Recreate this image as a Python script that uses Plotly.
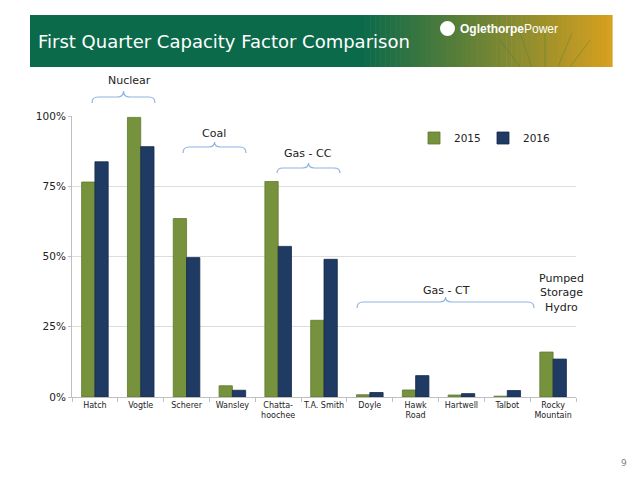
import plotly.graph_objects as go

categories = ["Hatch", "Vogtle", "Scherer", "Wansley", "Chatta-<br>hoochee", "T.A. Smith",
              "Doyle", "Hawk<br>Road", "Hartwell", "Talbot", "Rocky<br>Mountain"]
values_2015 = [0.765, 0.995, 0.635, 0.040, 0.767, 0.273, 0.008, 0.025, 0.007, 0.003, 0.160]
values_2016 = [0.837, 0.891, 0.496, 0.024, 0.536, 0.490, 0.016, 0.076, 0.012, 0.023, 0.135]
y_tickvals = [0, 0.25, 0.5, 0.75, 1.0]
y_ticktext = ["0%", "25%", "50%", "75%", "100%"]

OFF = 8  # page body margin
W, H = 637 - 2 * OFF, 478 - 2 * OFF
# plot area in page pixels
L, R, T, B = 72, 576, 116, 397
FONT = "DejaVu Sans"

def px(x):
    return (x - L) / (R - L)

def py(y):
    return (B - y) / (B - T)

fig = go.Figure()
fig.add_trace(go.Bar(x=categories, y=values_2015, name="2015",
                     marker=dict(color="#76923C", line=dict(color="#5E7A2C", width=0.8))))
fig.add_trace(go.Bar(x=categories, y=values_2016, name="2016",
                     marker=dict(color="#1F3A63", line=dict(color="#142A4A", width=0.8))))

shapes = []
# header banner
shapes.append(dict(type="rect", xref="paper", yref="paper",
                   x0=px(30), x1=px(362), y0=py(67), y1=py(15),
                   fillcolor="#0B6A4A", line=dict(width=0), layer="below"))
c0 = (11, 106, 74)
c1 = (214, 160, 32)
n = 50
gx0, gx1 = 360, 612
for i in range(n):
    t = i / (n - 1)
    col = tuple(int(c0[k] + (c1[k] - c0[k]) * t) for k in range(3))
    xa = gx0 + (gx1 - gx0) * i / n
    xb = gx0 + (gx1 - gx0) * (i + 1) / n + 0.6
    shapes.append(dict(type="rect", xref="paper", yref="paper",
                       x0=px(xa), x1=px(xb), y0=py(67), y1=py(15),
                       fillcolor="rgb(%d,%d,%d)" % col, line=dict(width=0), layer="below"))
# faint logo spokes inside banner
for (xa, ya, xb, yb) in [(520, 67, 500, 40), (545, 67, 545, 30), (570, 67, 590, 40),
                         (532, 67, 520, 33), (558, 67, 572, 33)]:
    shapes.append(dict(type="line", xref="paper", yref="paper",
                       x0=px(xa), y0=py(ya), x1=px(xb), y1=py(yb),
                       line=dict(color="rgba(60,120,60,0.35)", width=1)))
# logo icon
shapes.append(dict(type="circle", xref="paper", yref="paper",
                   x0=px(440), x1=px(455), y0=py(36), y1=py(21),
                   fillcolor="white", line=dict(width=0)))


def brace(x0, x1, yend, yline, ypeak):
    xm = (x0 + x1) / 2
    r = min(6, (x1 - x0) / 4)
    pts = lambda x, y: "%.5f,%.5f" % (px(x), py(y))
    return ("M " + pts(x0, yend) +
            " Q " + pts(x0, yline) + " " + pts(x0 + r, yline) +
            " L " + pts(xm - r, yline) +
            " Q " + pts(xm, yline) + " " + pts(xm, ypeak) +
            " Q " + pts(xm, yline) + " " + pts(xm + r, yline) +
            " L " + pts(x1 - r, yline) +
            " Q " + pts(x1, yline) + " " + pts(x1, yend))

bc = "#8DB3E2"
for b in [(92, 155, 103, 97, 91), (183, 246, 153, 147, 142),
          (277, 340, 173, 168, 163), (357, 534, 308, 302, 297)]:
    shapes.append(dict(type="path", xref="paper", yref="paper", path=brace(*b),
                       line=dict(color=bc, width=1.2)))

annotations = [
    dict(text="First Quarter Capacity Factor Comparison", x=px(36), y=py(42),
         xanchor="left", yanchor="middle", font=dict(family=FONT, size=18, color="white")),
    dict(text="<b>Oglethorpe</b>Power", x=px(458), y=py(29), xanchor="left", yanchor="middle",
         font=dict(family="Liberation Sans", size=12, color="white")),
    dict(text="Nuclear", x=px(129), y=py(80)),
    dict(text="Coal", x=px(214), y=py(133)),
    dict(text="Gas - CC", x=px(308), y=py(153)),
    dict(text="Gas - CT", x=px(446), y=py(290)),
    dict(text="Pumped<br>Storage<br>Hydro", x=px(561), y=py(293)),
    dict(text="9", x=px(629), y=py(470), xanchor="right", yanchor="bottom",
         font=dict(family=FONT, size=9, color="#7F7F7F")),
]
for a in annotations:
    a.setdefault("xref", "paper")
    a.setdefault("yref", "paper")
    a.setdefault("showarrow", False)
    a.setdefault("xanchor", "center")
    a.setdefault("yanchor", "middle")
    a.setdefault("font", dict(family=FONT, size=11, color="#222222"))

fig.update_layout(
    width=W, height=H, autosize=False,
    margin=dict(l=L - OFF, r=W + OFF - R, t=T - OFF, b=H + OFF - B, pad=0),
    paper_bgcolor="white", plot_bgcolor="white",
    barmode="group", bargap=0.42, bargroupgap=0.0,
    font=dict(family=FONT, color="#222222"),
    shapes=shapes, annotations=annotations,
    legend=dict(orientation="h", x=px(414), y=py(138), xanchor="left", yanchor="middle",
                font=dict(family=FONT, size=10.5, color="#222222"),
                entrywidth=24, entrywidthmode="pixels", bgcolor="rgba(0,0,0,0)"),
    showlegend=True,
)
fig.update_xaxes(showline=True, linecolor="#BFBFBF", linewidth=1, ticks="outside",
                 tickson="boundaries", ticklen=4, tickcolor="#BFBFBF",
                 tickfont=dict(family=FONT, size=8, color="#222222"), tickangle=0,
                 showgrid=False)
fig.update_yaxes(range=[0, 1.0], tickvals=y_tickvals, ticktext=y_ticktext,
                 showline=True, linecolor="#BFBFBF", linewidth=1, ticks="outside",
                 ticklen=3, tickcolor="#BFBFBF", showgrid=True, gridcolor="#DDDDDD",
                 zeroline=False, tickfont=dict(family=FONT, size=10.5, color="#222222"))

fig.write_html("out.html")
